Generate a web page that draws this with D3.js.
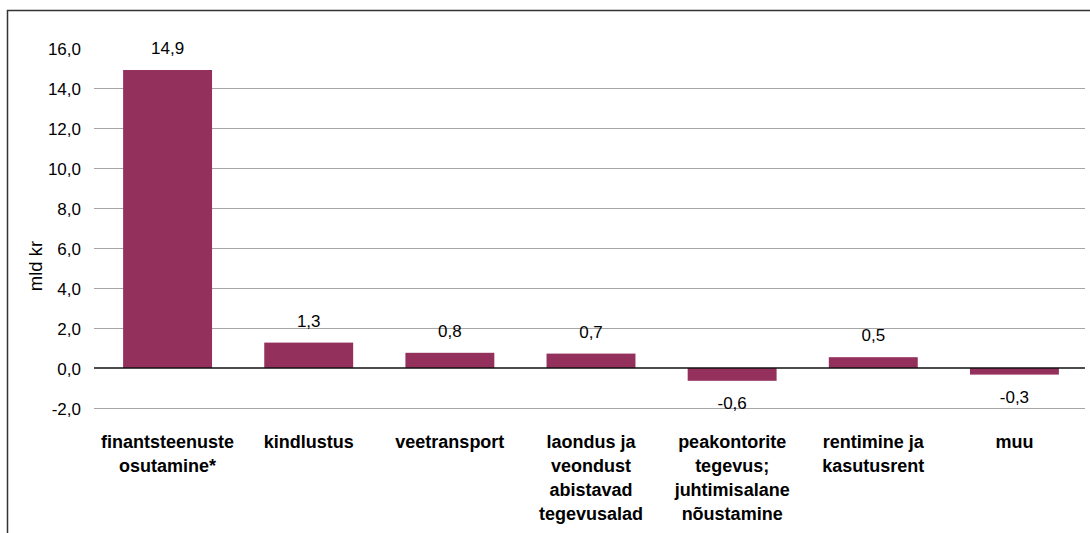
<!DOCTYPE html>
<html>
<head>
<meta charset="utf-8">
<script src="https://cdn.jsdelivr.net/npm/d3@7"></script>
<style>
    body { margin: 0; background: white; }
    svg { display: block; }
</style>
</head>
<body>
<div id="chart"></div>
<script>
const log = console.log

// categories, one array of lines per label
const categories = [
    ["finantsteenuste", "osutamine*"],
    ["kindlustus"],
    ["veetransport"],
    ["laondus ja", "veondust", "abistavad", "tegevusalad"],
    ["peakontorite", "tegevus;", "juhtimisalane", "nõustamine"],
    ["rentimine ja", "kasutusrent"],
    ["muu"]
]
const values = [14.9, 1.27, 0.76, 0.72, -0.64, 0.54, -0.33]
const yTicks = [-2, 0, 2, 4, 6, 8, 10, 12, 14, 16]
const yTitle = "mld kr"

const width = 1090
const height = 533
const barColor = "#93305c"
const fontFamily = "Arial, 'Liberation Sans', sans-serif"

const svg = d3.select("#chart").append("svg")
    .attr("width", width)
    .attr("height", height)

// outer frame (top and left edges only show)
svg.append("path")
    .attr("d", `M7.5,${height} L7.5,10.5 L${width},10.5`)
    .attr("fill", "none")
    .attr("stroke", "#333")
    .attr("stroke-width", 1.5)

const keys = categories.map(function(c) { return c.join(" ") })

const x = d3.scaleBand()
    .domain(keys)
    .range([97, 1085])
    .paddingInner(0.37)
    .paddingOuter(0.185)

const y = d3.scaleLinear()
    .domain([-2, 16])
    .range([408, 48])

// gridlines
svg.append("g")
    .selectAll("line")
    .data(yTicks.filter(function(t) { return t !== 16 && t !== 0 }))
    .join("line")
    .attr("x1", 94)
    .attr("x2", 1085)
    .attr("y1", function(d) { return Math.round(y(d)) + 0.5 })
    .attr("y2", function(d) { return Math.round(y(d)) + 0.5 })
    .attr("stroke", "#a6a6a6")
    .attr("stroke-width", 1.2)

// tick labels
const fmt = function(v) { return d3.format(".1f")(v).replace(".", ",").replace("−", "-") }

svg.append("g")
    .selectAll("text")
    .data(yTicks)
    .join("text")
    .attr("x", 81)
    .attr("y", function(d) { return y(d) + 7 })
    .attr("text-anchor", "end")
    .attr("font-family", fontFamily)
    .attr("font-size", 17)
    .attr("fill", "#000")
    .text(fmt)

// y axis title
svg.append("text")
    .attr("transform", "translate(42,266) rotate(-90)")
    .attr("text-anchor", "middle")
    .attr("font-family", fontFamily)
    .attr("font-size", 18.5)
    .attr("fill", "#000")
    .text(yTitle)

// bars
svg.append("g")
    .selectAll("rect")
    .data(values)
    .join("rect")
    .attr("x", function(d, i) { return x(keys[i]) })
    .attr("width", x.bandwidth())
    .attr("y", function(d) { return y(Math.max(0, d)) })
    .attr("height", function(d) { return Math.abs(y(d) - y(0)) })
    .attr("fill", barColor)

// zero line
svg.append("line")
    .attr("x1", 94)
    .attr("x2", 1085)
    .attr("y1", y(0))
    .attr("y2", y(0))
    .attr("stroke", "#111")
    .attr("stroke-width", 1.3)

// value labels
svg.append("g")
    .selectAll("text")
    .data(values)
    .join("text")
    .attr("x", function(d, i) { return x(keys[i]) + x.bandwidth() / 2 })
    .attr("y", function(d) { return d >= 0 ? y(d) - 16 : y(d) + 28 })
    .attr("text-anchor", "middle")
    .attr("font-family", fontFamily)
    .attr("font-size", 17)
    .attr("fill", "#000")
    .text(fmt)

// category labels
const catGroup = svg.append("g")
categories.forEach(function(lines, i) {
    const t = catGroup.append("text")
        .attr("text-anchor", "middle")
        .attr("font-family", fontFamily)
        .attr("font-size", 18)
        .attr("font-weight", "bold")
        .attr("fill", "#000")
    lines.forEach(function(line, j) {
        t.append("tspan")
            .attr("x", x(keys[i]) + x.bandwidth() / 2)
            .attr("y", 448 + j * 24)
            .text(line)
    })
})
</script>
</body>
</html>
